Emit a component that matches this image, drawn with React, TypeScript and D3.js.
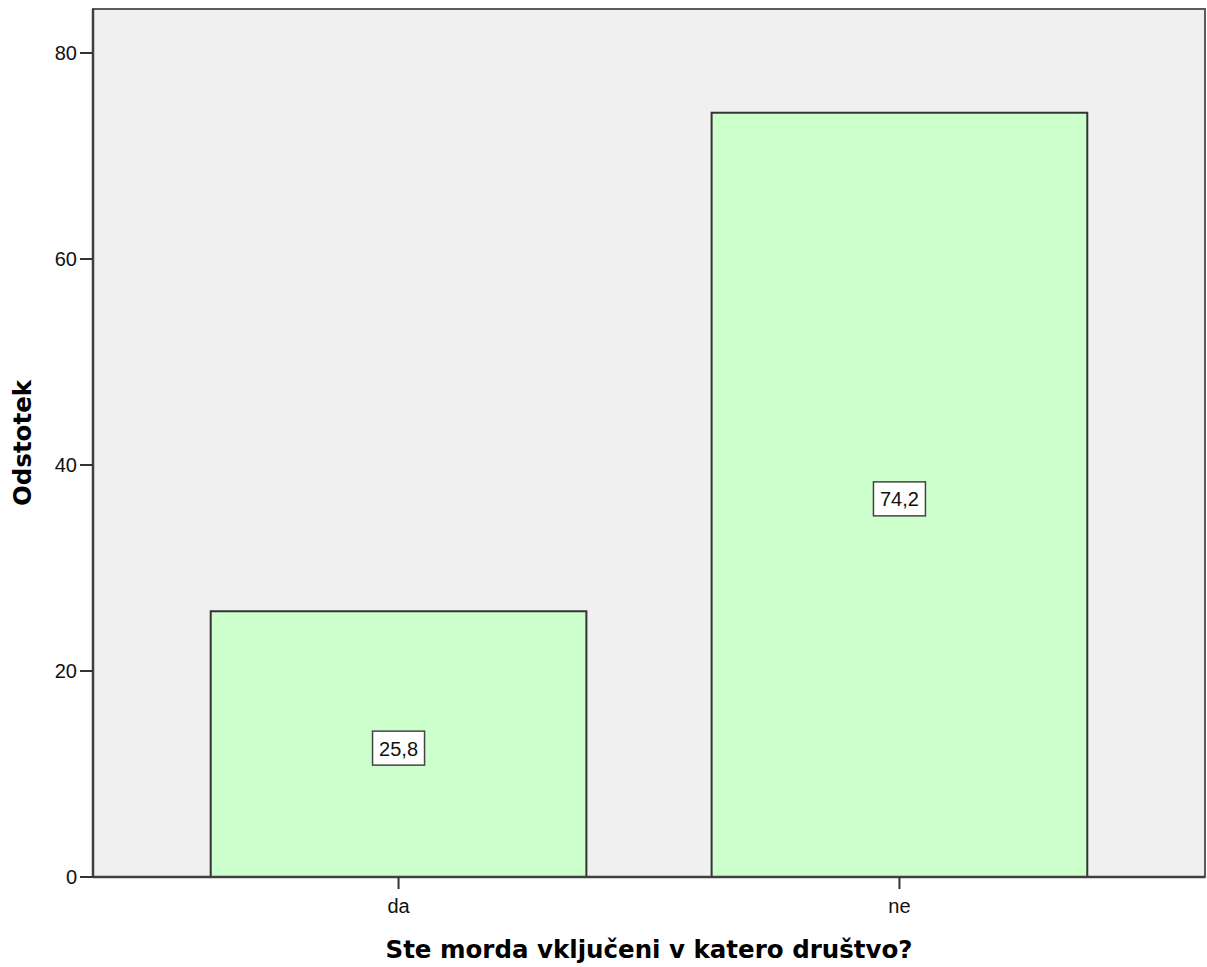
import React from 'react';
import * as d3 from 'd3';

const categories = ['da', 'ne'];
const percents = [25.8, 74.2];
const yTicks = [0, 20, 40, 60, 80];

const width = 1207;
const height = 967;
const margin = { top: 9, right: 2, bottom: 90, left: 93 };
const font = 'Arial, "Liberation Sans", sans-serif';
const boldFont = '"DejaVu Sans", Verdana, sans-serif';

const App: React.FC = () => {
  const plotBottom = height - margin.bottom; // 877
  const plotRight = width - margin.right;

  const x = d3.scaleBand<string>()
    .domain(categories)
    .range([margin.left, plotRight])
    .paddingInner(0.25)
    .paddingOuter(0.235);

  const y = d3.scaleLinear()
    .domain([0, 80])
    .range([plotBottom, 53]);

  const fmt = (v: number) => v.toFixed(1).replace('.', ',');

  return (
    <svg width={width} height={height} style={{ position: 'absolute', left: 0, top: 0 }}>
      <rect x={0} y={0} width={width} height={height} fill="#ffffff" />
      <rect
        x={margin.left}
        y={margin.top}
        width={plotRight - margin.left}
        height={plotBottom - margin.top}
        fill="#f0f0f0"
        stroke="#5a5a5a"
        strokeWidth={2}
      />
      {/* bars */}
      {categories.map((c, i) => (
        <rect
          key={c}
          x={x(c)}
          y={y(percents[i])}
          width={x.bandwidth()}
          height={y(0) - y(percents[i])}
          fill="#ccffcc"
          stroke="#333333"
          strokeWidth={2}
        />
      ))}
      {/* value labels */}
      {categories.map((c, i) => {
        const cx = (x(c) || 0) + x.bandwidth() / 2;
        const cy = y(percents[i] / 2) + 4;
        return (
          <g key={`l-${c}`}>
            <rect x={cx - 26} y={cy - 17} width={52} height={34} fill="#ffffff" stroke="#444444" strokeWidth={1.5} />
            <text x={cx} y={cy + 7.5} textAnchor="middle" fontFamily={font} fontSize={20} fill="#111">
              {fmt(percents[i])}
            </text>
          </g>
        );
      })}
      {/* axes */}
      <line x1={margin.left} x2={margin.left} y1={margin.top} y2={plotBottom} stroke="#404040" strokeWidth={2.5} />
      <line x1={margin.left} x2={plotRight} y1={plotBottom} y2={plotBottom} stroke="#404040" strokeWidth={2.5} />
      {yTicks.map(t => (
        <g key={`yt-${t}`}>
          <line x1={80} x2={margin.left} y1={y(t)} y2={y(t)} stroke="#333" strokeWidth={2} />
          <text x={77} y={y(t) + 7} textAnchor="end" fontFamily={font} fontSize={20} fill="#111">
            {t}
          </text>
        </g>
      ))}
      {categories.map(c => {
        const cx = (x(c) || 0) + x.bandwidth() / 2;
        return (
          <g key={`xt-${c}`}>
            <line x1={cx} x2={cx} y1={plotBottom} y2={plotBottom + 12} stroke="#333" strokeWidth={2} />
            <text x={cx} y={913} textAnchor="middle" fontFamily={font} fontSize={20} fill="#111">
              {c}
            </text>
          </g>
        );
      })}
      <text
        x={(margin.left + plotRight) / 2}
        y={958}
        textAnchor="middle"
        fontFamily={boldFont}
        fontWeight="bold"
        fontSize={24.5}
        fill="#000"
      >
        Ste morda vključeni v katero društvo?
      </text>
      <text
        transform={`translate(31, 443) rotate(-90)`}
        textAnchor="middle"
        fontFamily={boldFont}
        fontWeight="bold"
        fontSize={24.5}
        fill="#000"
      >
        Odstotek
      </text>
    </svg>
  );
};

export default App;
